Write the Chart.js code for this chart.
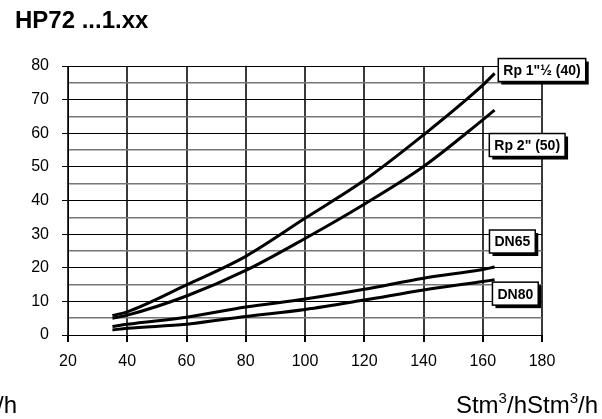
<!DOCTYPE html>
<html>
<head>
<meta charset="utf-8">
<script src="https://cdn.jsdelivr.net/npm/chart.js@4/dist/chart.umd.min.js"></script>
<style>
html, body { margin: 0; padding: 0; background: #fff; }
#wrap { width: 602px; height: 419px; position: relative; }
</style>
</head>
<body>
<div id="wrap"><canvas id="chart"></canvas></div>
<script>
// flow in Stm3/h, pressure drop
const flow = [35, 40, 60, 80, 100, 120, 140, 160, 164]
const rp40 = [5.8, 6.9, 14.9, 23.4, 34.7, 46.0, 59.5, 74.3, 77.8]
const rp50 = [5.0, 5.9, 11.6, 19.2, 28.7, 38.9, 50.1, 64.0, 66.9]
const dn65 = [2.5, 3.2, 5.3, 8.3, 10.7, 13.6, 16.9, 19.5, 20.2]
const dn80 = [1.5, 2.0, 3.2, 5.5, 7.6, 10.4, 13.4, 15.9, 16.4]
const seriesNames = ['Rp 1"½ (40)', 'Rp 2" (50)', 'DN65', 'DN80']
const xTicks = [20, 40, 60, 80, 100, 120, 140, 160, 180]
const yTicks = [0, 10, 20, 30, 40, 50, 60, 70, 80]

const title = 'HP72 ...1.xx'

// where the name boxes sit, in axis units
const tagAt = [[180, 78.8], [175, 56.5], [170, 27.8], [171, 12.3]]

const FONT = '"Liberation Sans", Arial, sans-serif'
Chart.defaults.font.family = FONT
Chart.defaults.color = '#000'

const series = [rp40, rp50, dn65, dn80]

// "Stm3/h" with a raised 3, right aligned at x
function unitText(ctx, x, y) {
    ctx.font = '24px ' + FONT
    const a = 'Stm', b = '/h'
    const wa = ctx.measureText(a).width, wb = ctx.measureText(b).width
    ctx.font = '15px ' + FONT
    const w3 = ctx.measureText('3').width
    let left = x - wa - w3 - wb
    ctx.font = '24px ' + FONT
    ctx.fillText(a, left, y)
    ctx.font = '15px ' + FONT
    ctx.fillText('3', left + wa, y - 10)
    ctx.font = '24px ' + FONT
    ctx.fillText(b, left + wa + w3, y)
    return left
}

const tags = {
    id: 'tags',
    afterDraw(chart) {
        const ctx = chart.ctx
        const xs = chart.scales.x, ys = chart.scales.y
        ctx.save()
        ctx.font = 'bold 14px ' + FONT
        ctx.textAlign = 'center'
        ctx.textBaseline = 'middle'
        seriesNames.forEach((name, i) => {
            const cx = xs.getPixelForValue(tagAt[i][0])
            const cy = ys.getPixelForValue(tagAt[i][1])
            const w = ctx.measureText(name).width + 10
            const h = 23
            ctx.fillStyle = '#000'
            ctx.fillRect(cx - w / 2 + 3, cy - h / 2 + 3, w, h)
            ctx.fillStyle = '#fff'
            ctx.fillRect(cx - w / 2, cy - h / 2, w, h)
            ctx.strokeStyle = '#000'
            ctx.lineWidth = 1.5
            ctx.strokeRect(cx - w / 2, cy - h / 2, w, h)
            ctx.fillStyle = '#000'
            ctx.fillText(name, cx, cy + 1)
        })

        ctx.textBaseline = 'alphabetic'
        ctx.textAlign = 'left'
        ctx.font = 'bold 24px ' + FONT
        ctx.fillText(title, 15, 28)
        // two overlapping unit labels on the right, a cut one on the left
        const l = unitText(ctx, 598, 413)
        unitText(ctx, l, 413)
        unitText(ctx, 17, 413)
        ctx.restore()
    }
}

new Chart(document.getElementById('chart'), {
    type: 'line',
    data: {
        datasets: series.map((s, i) => ({
            label: seriesNames[i],
            data: flow.map((f, j) => ({ x: f, y: s[j] })),
            borderColor: '#000',
            borderWidth: 3,
            pointRadius: 0,
            cubicInterpolationMode: 'monotone',
            fill: false
        }))
    },
    options: {
        responsive: true,
        maintainAspectRatio: false,
        animation: false,
        layout: { padding: { top: 66, right: 60, left: 0, bottom: 0 } },
        plugins: {
            legend: { display: false },
            tooltip: { enabled: false },
            title: { display: false }
        },
        scales: {
            x: {
                type: 'linear',
                min: xTicks[0],
                max: xTicks[xTicks.length - 1],
                afterFit: s => { s.height = 84 },
                // 1px vertical grid lines did not show up in the render, 2px do
                grid: { color: '#3a3a3a', lineWidth: 2, tickLength: 7, tickColor: '#000' },
                border: { color: '#000', width: 1 },
                ticks: {
                    stepSize: 20,
                    autoSkip: false,
                    font: { size: 16 },
                    padding: 10,
                    maxRotation: 0,
                    callback: v => xTicks.includes(v) ? v : ''
                }
            },
            y: {
                min: yTicks[0],
                max: yTicks[yTicks.length - 1],
                ticks: {
                    stepSize: 5,
                    autoSkip: false,
                    font: { size: 16 },
                    padding: 13,
                    callback: v => yTicks.includes(v) ? v : ''
                },
                afterFit: s => { s.width = 68 },
                grid: {
                    color: c => yTicks.includes(c.tick.value) ? '#000' : '#777',
                    lineWidth: c => yTicks.includes(c.tick.value) ? 1 : 1.4,
                    tickLength: 6,
                    tickColor: c => yTicks.includes(c.tick.value) ? '#000' : 'rgba(0,0,0,0)'
                },
                border: { color: '#000', width: 1 }
            }
        }
    },
    plugins: [tags]
});
</script>
</body>
</html>
